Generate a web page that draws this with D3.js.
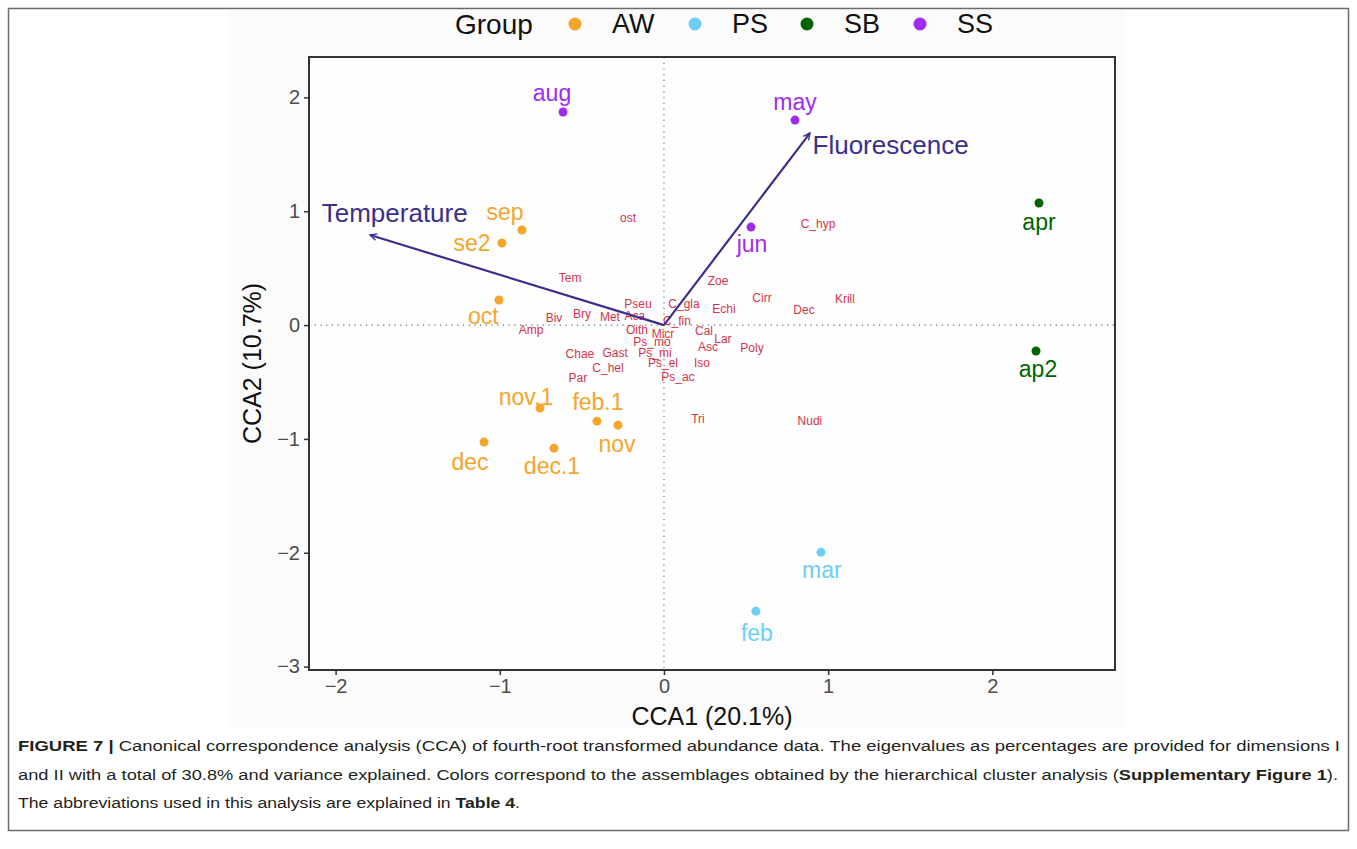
<!DOCTYPE html>
<html>
<head>
<meta charset="utf-8">
<script src="https://cdn.jsdelivr.net/npm/d3@7"></script>
<style>
  html, body { margin: 0; padding: 0; background: #ffffff; }
  svg { display: block; font-family: "Liberation Sans", Arial, sans-serif; }
</style>
</head>
<body>
<svg id="chart" width="1357" height="849"></svg>
<script>
// ---------------- DATA ----------------
const groups = ["AW", "PS", "SB", "SS"];
const groupColors = ["#f5a52a", "#6dcef6", "#006400", "#9f2bf0"];

const sites      = ["sep", "se2", "oct", "nov.1", "feb.1", "nov", "dec", "dec.1", "mar", "feb", "apr", "ap2", "aug", "may", "jun"];
const siteGroup  = ["AW", "AW", "AW", "AW", "AW", "AW", "AW", "AW", "PS", "PS", "SB", "SB", "SS", "SS", "SS"];
const siteCCA1   = [-0.865, -0.987, -1.005, -0.755, -0.408, -0.280, -1.096, -0.670, 0.956, 0.560, 2.284, 2.266, -0.615, 0.798, 0.530];
const siteCCA2   = [0.835, 0.721, 0.220, -0.729, -0.844, -0.879, -1.028, -1.081, -1.995, -2.513, 1.072, -0.228, 1.872, 1.801, 0.861];
// repelled label positions (same units)
const siteLabCCA1 = [-0.968, -1.169, -1.100, -0.840, -0.402, -0.286, -1.181, -0.682, 0.962, 0.566, 2.284, 2.278, -0.682, 0.798, 0.536];
const siteLabCCA2 = [0.993, 0.721, 0.079, -0.633, -0.677, -1.046, -1.204, -1.239, -2.153, -2.707, 0.905, -0.387, 2.039, 1.960, 0.712];

const species     = ["ost", "C_hyp", "Tem", "Zoe", "Cirr", "Krill", "Pseu", "C_gla", "Echi", "Dec", "Aca", "Met", "Bry", "Biv", "C_fin", "Amp", "Oith", "Micr", "Cal", "Lar", "Ps_mo", "Asc", "Poly", "Chae", "Gast", "Ps_mi", "Iso", "Ps_el", "C_hel", "Par", "Ps_ac", "Tri", "Nudi"];
const speciesCCA1 = [-0.219, 0.938, -0.572, 0.329, 0.597, 1.102, -0.158, 0.122, 0.365, 0.853, -0.177, -0.329, -0.499, -0.670, 0.079, -0.810, -0.164, -0.006, 0.244, 0.359, -0.073, 0.268, 0.536, -0.512, -0.298, -0.055, 0.231, -0.006, -0.341, -0.524, 0.085, 0.207, 0.889];
const speciesCCA2 = [0.940, 0.888, 0.413, 0.387, 0.237, 0.228, 0.185, 0.185, 0.141, 0.132, 0.079, 0.070, 0.097, 0.062, 0.035, -0.044, -0.044, -0.079, -0.053, -0.123, -0.149, -0.193, -0.202, -0.255, -0.246, -0.246, -0.334, -0.334, -0.378, -0.466, -0.457, -0.826, -0.844];

const envVars    = ["Temperature", "Fluorescence"];
const envCCA1    = [-1.790, 0.889];
const envCCA2    = [0.791, 1.687];
const envLabCCA1 = [-1.640, 1.380];
const envLabCCA2 = [0.984, 1.582];

const xTicks = [-2, -1, 0, 1, 2];
const yTicks = [-3, -2, -1, 0, 1, 2];
const xDomain = [-2.162, 2.747];
const yDomain = [-3.03, 2.355];

const xTitle = "CCA1 (20.1%)";
const yTitle = "CCA2 (10.7%)";
const legendTitle = "Group";

const captionLines = [
  [{t: "FIGURE 7 | ", b: true}, {t: "Canonical correspondence analysis (CCA) of fourth-root transformed abundance data. The eigenvalues as percentages are provided for dimensions I", b: false}],
  [{t: "and II with a total of 30.8% and variance explained. Colors correspond to the assemblages obtained by the hierarchical cluster analysis (", b: false}, {t: "Supplementary Figure 1", b: true}, {t: ").", b: false}],
  [{t: "The abbreviations used in this analysis are explained in ", b: false}, {t: "Table 4", b: true}, {t: ".", b: false}]
];

// ---------------- LAYOUT ----------------
const svg = d3.select("#chart");
const panel = {left: 309, right: 1115, top: 57, bottom: 670};

const x = d3.scaleLinear().domain(xDomain).range([panel.left, panel.right]);
const y = d3.scaleLinear().domain(yDomain).range([panel.bottom, panel.top]);
const color = d3.scaleOrdinal().domain(groups).range(groupColors);

// outer figure frame
svg.append("rect").attr("x", 8.5).attr("y", 8.5).attr("width", 1340).attr("height", 822)
  .attr("fill", "#ffffff").attr("stroke", "#6b6b6b").attr("stroke-width", 1.5);

// chart image background
svg.append("rect").attr("x", 228).attr("y", 10).attr("width", 897).attr("height", 718).attr("fill", "#fbfbfb");

// panel background
svg.append("rect").attr("x", panel.left).attr("y", panel.top)
  .attr("width", panel.right - panel.left).attr("height", panel.bottom - panel.top)
  .attr("fill", "#fefefe");

// zero lines
svg.append("line").attr("x1", x(0)).attr("x2", x(0)).attr("y1", panel.top).attr("y2", panel.bottom)
  .attr("stroke", "#666").attr("stroke-width", 1.1).attr("stroke-dasharray", "1.2,4.5");
svg.append("line").attr("x1", panel.left).attr("x2", panel.right).attr("y1", y(0)).attr("y2", y(0))
  .attr("stroke", "#666").attr("stroke-width", 1.1).attr("stroke-dasharray", "1.2,4.5");

// species labels
svg.append("g").selectAll("text").data(species).join("text")
  .attr("x", (d, i) => x(speciesCCA1[i]))
  .attr("y", (d, i) => y(speciesCCA2[i]))
  .attr("text-anchor", "middle").attr("dominant-baseline", "central")
  .attr("font-size", 12).attr("fill", "#d2344a")
  .text(d => d);

// environmental arrows
const defs = svg.append("defs");
defs.append("marker").attr("id", "arrow").attr("viewBox", "-10 -6 12 12")
  .attr("refX", 0).attr("refY", 0).attr("markerWidth", 10).attr("markerHeight", 10)
  .attr("markerUnits", "userSpaceOnUse").attr("orient", "auto")
  .append("path").attr("d", "M-8,-4 L0,0 L-8,4").attr("fill", "none")
  .attr("stroke", "#3a2f8c").attr("stroke-width", 1.6);

svg.append("g").selectAll("line").data(envVars).join("line")
  .attr("x1", x(0)).attr("y1", y(0))
  .attr("x2", (d, i) => x(envCCA1[i])).attr("y2", (d, i) => y(envCCA2[i]))
  .attr("stroke", "#3a2f8c").attr("stroke-width", 2.2)
  .attr("marker-end", "url(#arrow)");

svg.append("g").selectAll("text").data(envVars).join("text")
  .attr("x", (d, i) => x(envLabCCA1[i]))
  .attr("y", (d, i) => y(envLabCCA2[i]))
  .attr("text-anchor", "middle").attr("dominant-baseline", "central")
  .attr("font-size", 26).attr("fill", "#3a2f8c")
  .text(d => d);

// site points
svg.append("g").selectAll("circle").data(sites).join("circle")
  .attr("cx", (d, i) => x(siteCCA1[i]))
  .attr("cy", (d, i) => y(siteCCA2[i]))
  .attr("r", 4.5)
  .attr("fill", (d, i) => color(siteGroup[i]));

// site labels
svg.append("g").selectAll("text").data(sites).join("text")
  .attr("x", (d, i) => x(siteLabCCA1[i]))
  .attr("y", (d, i) => y(siteLabCCA2[i]))
  .attr("text-anchor", "middle").attr("dominant-baseline", "central")
  .attr("font-size", 23)
  .attr("fill", (d, i) => color(siteGroup[i]))
  .text(d => d);

// panel border
svg.append("rect").attr("x", panel.left).attr("y", panel.top)
  .attr("width", panel.right - panel.left).attr("height", panel.bottom - panel.top)
  .attr("fill", "none").attr("stroke", "#333").attr("stroke-width", 2);

// axes
const fmt = d => d < 0 ? "\u2212" + Math.abs(d) : String(d);
const xAxis = svg.append("g").attr("transform", `translate(0,${panel.bottom})`)
  .call(d3.axisBottom(x).tickValues(xTicks).tickSize(5).tickPadding(4).tickFormat(fmt));
const yAxis = svg.append("g").attr("transform", `translate(${panel.left},0)`)
  .call(d3.axisLeft(y).tickValues(yTicks).tickSize(5).tickPadding(4).tickFormat(fmt));
[xAxis, yAxis].forEach(a => {
  a.select(".domain").remove();
  a.selectAll(".tick line").attr("stroke", "#333").attr("stroke-width", 1.5);
  a.selectAll(".tick text").attr("fill", "#4d4d4d").attr("font-size", 20)
    .attr("font-family", "Liberation Sans, Arial, sans-serif");
});

// axis titles
svg.append("text").attr("x", (panel.left + panel.right) / 2).attr("y", 716)
  .attr("text-anchor", "middle").attr("dominant-baseline", "central")
  .attr("font-size", 25).attr("fill", "#111").text(xTitle);
svg.append("text")
  .attr("transform", `translate(252,${(panel.top + panel.bottom) / 2}) rotate(-90)`)
  .attr("text-anchor", "middle").attr("dominant-baseline", "central")
  .attr("font-size", 25).attr("fill", "#111").text(yTitle);

// legend
const legY = 24;
svg.append("text").attr("x", 455).attr("y", legY).attr("dominant-baseline", "central")
  .attr("font-size", 28).attr("fill", "#111").text(legendTitle);
const legX = [575, 695, 807, 920];
const leg = svg.append("g").selectAll("g").data(groups).join("g")
  .attr("transform", (d, i) => `translate(${legX[i]},${legY})`);
leg.append("circle").attr("r", 6.5).attr("fill", d => color(d));
leg.append("text").attr("x", 37).attr("dominant-baseline", "central")
  .attr("font-size", 27).attr("fill", "#111").text(d => d);

// caption
const capY = [745, 774, 802];
const capTarget = [1322, 1320, 502];
captionLines.forEach((line, li) => {
  const t = svg.append("text").attr("x", 18).attr("y", capY[li])
    .attr("dominant-baseline", "central").attr("font-size", 15.5).attr("fill", "#231f20");
  line.forEach(seg => {
    t.append("tspan").attr("font-weight", seg.b ? "bold" : "normal").text(seg.t);
  });
  t.attr("textLength", capTarget[li]).attr("lengthAdjust", "spacingAndGlyphs");
});
</script>
</body>
</html>
